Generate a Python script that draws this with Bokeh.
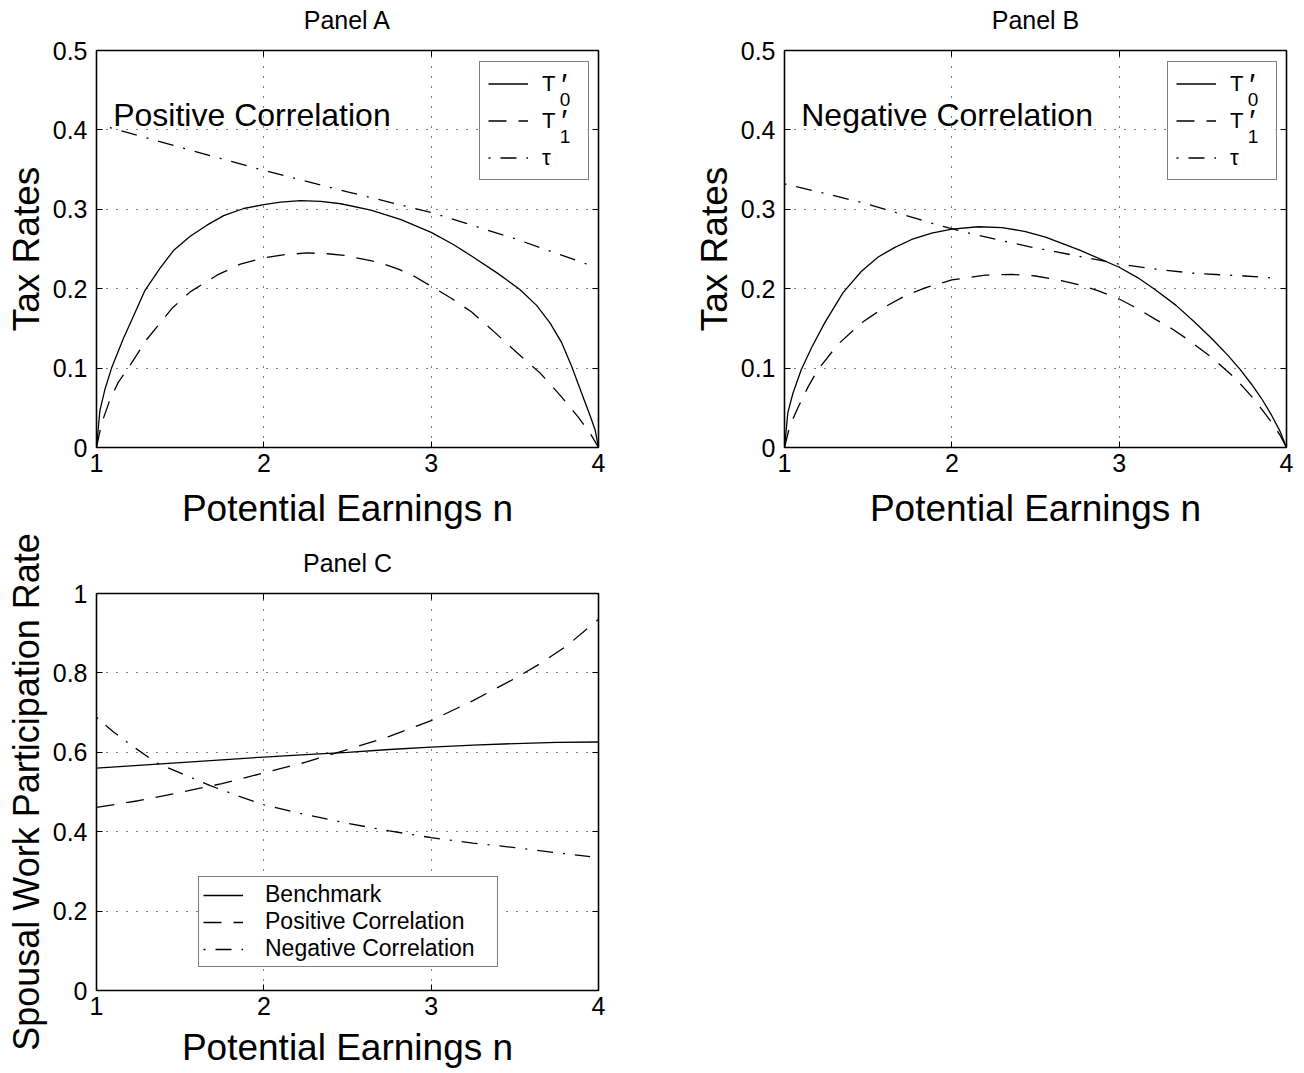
from bokeh.plotting import figure
from bokeh.models import (Legend, LegendItem, Label, FixedTicker, LinearAxis,
                          Range1d, BoxAnnotation)
from bokeh.layouts import column, row
from bokeh.embed import file_html
from bokeh.resources import INLINE

FONT = "Liberation Sans"

# ---------------- data ----------------
# Panel A : positive correlation
a_t0_n = [1.0, 1.02, 1.05, 1.09, 1.16, 1.22, 1.29, 1.38, 1.46, 1.56, 1.66,
          1.76, 1.88, 2.0, 2.1, 2.22, 2.34, 2.46, 2.64, 2.82, 3.0, 3.13, 3.25,
          3.4, 3.53, 3.63, 3.71, 3.78, 3.84, 3.9, 3.95, 3.98, 4.0]
a_t0_v = [0.0, 0.046, 0.073, 0.100, 0.137, 0.165, 0.198, 0.226, 0.248, 0.266,
          0.280, 0.292, 0.301, 0.306, 0.309, 0.311, 0.310, 0.307, 0.299, 0.287,
          0.271, 0.256, 0.240, 0.219, 0.199, 0.179, 0.157, 0.132, 0.102, 0.068,
          0.040, 0.022, 0.0]
a_t1_n = [1.0, 1.03, 1.08, 1.13, 1.19, 1.3, 1.45, 1.56, 1.72, 1.86, 2.0, 2.13,
          2.26, 2.38, 2.48, 2.6, 2.69, 2.8, 2.88, 3.0, 3.12, 3.24, 3.38, 3.52,
          3.65, 3.77, 3.88, 3.95, 4.0]
a_t1_v = [0.0, 0.030, 0.060, 0.082, 0.100, 0.136, 0.175, 0.196, 0.217, 0.231,
          0.239, 0.243, 0.245, 0.244, 0.242, 0.237, 0.233, 0.225, 0.218, 0.203,
          0.188, 0.171, 0.145, 0.118, 0.094, 0.066, 0.038, 0.018, 0.0]
a_tau_n = [1.08, 1.5, 2.0, 2.5, 3.0, 3.5, 3.93]
a_tau_v = [0.403, 0.378, 0.349, 0.322, 0.296, 0.263, 0.231]

# Panel B : negative correlation
b_t0_n = [1.0, 1.02, 1.05, 1.1, 1.16, 1.24, 1.35, 1.46, 1.56, 1.66, 1.76,
          1.88, 2.0, 2.16, 2.3, 2.44, 2.56, 2.76, 3.0, 3.11, 3.22, 3.34, 3.45,
          3.55, 3.65, 3.72, 3.79, 3.85, 3.91, 3.96, 4.0]
b_t0_v = [0.0, 0.044, 0.068, 0.098, 0.125, 0.157, 0.195, 0.222, 0.240, 0.252,
          0.262, 0.270, 0.275, 0.278, 0.277, 0.272, 0.265, 0.249, 0.227, 0.214,
          0.198, 0.179, 0.158, 0.138, 0.116, 0.099, 0.080, 0.062, 0.041, 0.021,
          0.0]
b_t1_n = [1.0, 1.03, 1.08, 1.14, 1.2, 1.32, 1.46, 1.6, 1.72, 1.84, 2.0, 2.2,
          2.36, 2.5, 2.66, 2.78, 2.88, 3.0, 3.11, 3.22, 3.32, 3.41, 3.55, 3.69,
          3.81, 3.91, 3.96, 4.0]
b_t1_v = [0.0, 0.026, 0.050, 0.076, 0.098, 0.130, 0.157, 0.177, 0.191, 0.201,
          0.211, 0.217, 0.218, 0.216, 0.210, 0.204, 0.197, 0.187, 0.175, 0.161,
          0.149, 0.136, 0.114, 0.088, 0.060, 0.032, 0.016, 0.0]
b_tau_n = [1.0, 1.28, 1.49, 1.68, 1.92, 2.12, 2.46, 2.78, 3.0, 3.24, 3.47,
           3.75, 3.95]
b_tau_v = [0.332, 0.318, 0.307, 0.295, 0.280, 0.269, 0.253, 0.240, 0.231,
           0.224, 0.219, 0.216, 0.213]

# Panel C : spousal work participation rate
c_bench_n = [1.0, 1.25, 1.5, 1.75, 2.0, 2.25, 2.5, 2.75, 3.0, 3.25, 3.5, 3.75, 4.0]
c_bench_v = [0.560, 0.567, 0.574, 0.581, 0.588, 0.594, 0.600, 0.607, 0.613,
             0.618, 0.622, 0.625, 0.626]
c_pos_n = [1.0, 1.25, 1.5, 1.75, 2.0, 2.25, 2.5, 2.75, 3.0, 3.25, 3.5, 3.65,
           3.81, 4.0]
c_pos_v = [0.461, 0.478, 0.499, 0.521, 0.548, 0.575, 0.607, 0.640, 0.680,
           0.730, 0.786, 0.823, 0.868, 0.935]
c_neg_n = [1.0, 1.1, 1.2, 1.36, 1.5, 1.68, 1.84, 2.0, 2.25, 2.5, 2.75, 3.0,
           3.25, 3.5, 3.75, 3.95]
c_neg_v = [0.688, 0.652, 0.620, 0.573, 0.548, 0.516, 0.491, 0.468, 0.443,
           0.421, 0.402, 0.385, 0.371, 0.360, 0.347, 0.337]

x_ticks = [1, 2, 3, 4]
x_tick_labels = ["1", "2", "3", "4"]
y_ticks_ab = [0, 0.1, 0.2, 0.3, 0.4, 0.5]
y_tick_labels_ab = ["0", "0.1", "0.2", "0.3", "0.4", "0.5"]
y_ticks_c = [0, 0.2, 0.4, 0.6, 0.8, 1]
y_tick_labels_c = ["0", "0.2", "0.4", "0.6", "0.8", "1"]

labels_ab = ["T", "T", "\u03c4"]
labels_ab_sub = ["0", "1"]
labels_c = ["Benchmark", "Positive Correlation", "Negative Correlation"]

SOLID = "solid"
DASHED = "18 12"
DASHDOT = "2 10 16 10"


def make_panel(title, yr, yticks, ylabels, ylabel, ylabel_size,
               left, right, top, bottom, xlabel_standoff):
    p = figure(frame_width=502, frame_height=397,
               x_range=Range1d(1, 4), y_range=Range1d(*yr),
               output_backend="svg", toolbar_location=None,
               min_border_left=left, min_border_right=right,
               min_border_top=top, min_border_bottom=bottom)
    p.outline_line_color = "black"
    p.outline_line_width = 1.6
    p.background_fill_color = "white"
    p.border_fill_color = "white"

    p.xaxis.ticker = FixedTicker(ticks=x_ticks)
    p.xaxis.major_label_overrides = dict(zip(x_ticks, x_tick_labels))
    p.yaxis.ticker = FixedTicker(ticks=yticks)
    p.yaxis.major_label_overrides = dict(zip(yticks, ylabels))
    for ax in (p.xaxis[0], p.yaxis[0]):
        ax.axis_line_color = None
        ax.major_tick_in = 6
        ax.major_tick_out = 0
        ax.major_tick_line_color = "black"
        ax.minor_tick_line_color = None
        ax.major_label_text_font = FONT
        ax.major_label_text_font_size = "25px"
        ax.major_label_text_color = "black"
        ax.axis_label_text_font = FONT
        ax.axis_label_text_font_style = "normal"
        ax.axis_label_text_color = "black"
    p.xaxis.axis_label_text_font_size = "37px"
    p.yaxis.axis_label_text_font_size = ylabel_size
    p.xaxis.axis_label = "Potential Earnings n"
    p.yaxis.axis_label = ylabel
    p.xaxis.major_label_standoff = 6
    p.xaxis.axis_label_standoff = xlabel_standoff
    p.yaxis.major_label_standoff = 9
    p.yaxis.axis_label_standoff = 3

    # inward ticks on the right edge of the box
    rax = LinearAxis(ticker=FixedTicker(ticks=yticks),
                     major_label_overrides={t: "" for t in yticks},
                     major_label_standoff=0, axis_line_color=None,
                     major_tick_in=6, major_tick_out=0,
                     major_tick_line_color="black", minor_tick_line_color=None)
    p.add_layout(rax, "right")
    # top edge: inward ticks, and the panel title above the box
    tax = LinearAxis(ticker=FixedTicker(ticks=x_ticks),
                     major_label_overrides={t: "" for t in x_ticks},
                     major_label_standoff=0, axis_line_color=None,
                     major_tick_in=6, major_tick_out=0,
                     major_tick_line_color="black", minor_tick_line_color=None,
                     axis_label=title, axis_label_standoff=17,
                     axis_label_text_font=FONT, axis_label_text_font_size="25px",
                     axis_label_text_font_style="normal",
                     axis_label_text_color="black")
    p.add_layout(tax, "above")

    p.xgrid.ticker = FixedTicker(ticks=x_ticks[1:-1])
    p.ygrid.ticker = FixedTicker(ticks=yticks[1:-1])
    for g in (p.xgrid[0], p.ygrid[0]):
        g.grid_line_color = "black"
        g.grid_line_dash = "1 9"
        g.grid_line_width = 1
    return p


def small_text(p, x, y, text, size):
    p.add_layout(Label(x=x, y=y, text=text, text_font=FONT,
                       text_font_size=size, text_baseline="middle",
                       text_align="left", text_color="black"))


def tax_panel(title, t0n, t0v, t1n, t1v, taun, tauv, note, left, right):
    p = make_panel(title, (0, 0.5), y_ticks_ab, y_tick_labels_ab, "Tax Rates",
                   "37px", left, right, 50, 84, 13)
    # white backing of the legend box (hides the grid behind the legend)
    p.add_layout(BoxAnnotation(left=3.289, right=3.934, bottom=0.3363,
                               top=0.4836, fill_color="white", fill_alpha=1,
                               line_color=None, level="underlay"))
    r0 = p.line(t0n, t0v, line_color="black", line_width=1.3, line_dash=SOLID)
    r1 = p.line(t1n, t1v, line_color="black", line_width=1.3, line_dash=DASHED)
    r2 = p.line(taun, tauv, line_color="black", line_width=1.3, line_dash=DASHDOT)
    # prime superscripts and 0/1 subscripts of the two T labels
    small_text(p, 3.778, 0.456, "\u2032", "32px")
    small_text(p, 3.768, 0.4385, labels_ab_sub[0], "19px")
    small_text(p, 3.778, 0.4107, "\u2032", "32px")
    small_text(p, 3.768, 0.3915, labels_ab_sub[1], "19px")
    leg = Legend(items=[LegendItem(label=labels_ab[0], renderers=[r0]),
                        LegendItem(label=labels_ab[1], renderers=[r1]),
                        LegendItem(label=labels_ab[2], renderers=[r2])],
                 location=(383, 267), padding=8, spacing=10, margin=0,
                 glyph_width=40, glyph_height=27, label_height=27,
                 label_width=38, label_standoff=14,
                 label_text_font=FONT, label_text_font_size="22px",
                 label_text_color="black",
                 border_line_color="black", border_line_width=1.6,
                 background_fill_alpha=0)
    p.add_layout(leg)
    p.add_layout(Label(x=1.1, y=0.419, text=note, text_font=FONT,
                       text_font_size="32px", text_baseline="alphabetic",
                       text_color="black"))
    return p


pA = tax_panel("Panel A", a_t0_n, a_t0_v, a_t1_n, a_t1_v, a_tau_n, a_tau_v,
               "Positive Correlation", 96, 90)
pB = tax_panel("Panel B", b_t0_n, b_t0_v, b_t1_n, b_t1_v, b_tau_n, b_tau_v,
               "Negative Correlation", 96, 8)

pC = make_panel("Panel C", (0, 1), y_ticks_c, y_tick_labels_c,
                "Spousal Work Participation Rate", "36px", 96, 90, 62, 66, 9)
rc0 = pC.line(c_bench_n, c_bench_v, line_color="black", line_width=1.3, line_dash=SOLID)
rc1 = pC.line(c_pos_n, c_pos_v, line_color="black", line_width=1.3, line_dash=DASHED)
rc2 = pC.line(c_neg_n, c_neg_v, line_color="black", line_width=1.3, line_dash=DASHDOT)
legC = Legend(items=[LegendItem(label=labels_c[0], renderers=[rc0]),
                     LegendItem(label=labels_c[1], renderers=[rc1]),
                     LegendItem(label=labels_c[2], renderers=[rc2])],
              location=(102, 23), padding=4, spacing=0, margin=0,
              glyph_width=40, glyph_height=26, label_height=26,
              label_width=228, label_standoff=22,
              label_text_font=FONT, label_text_font_size="23px",
              label_text_color="black",
              border_line_color="black", border_line_width=1.6,
              background_fill_color="white", background_fill_alpha=1)
pC.add_layout(legC)

layout = column(row(pA, pB), pC)
open("out.html", "w").write(file_html(layout, INLINE))
